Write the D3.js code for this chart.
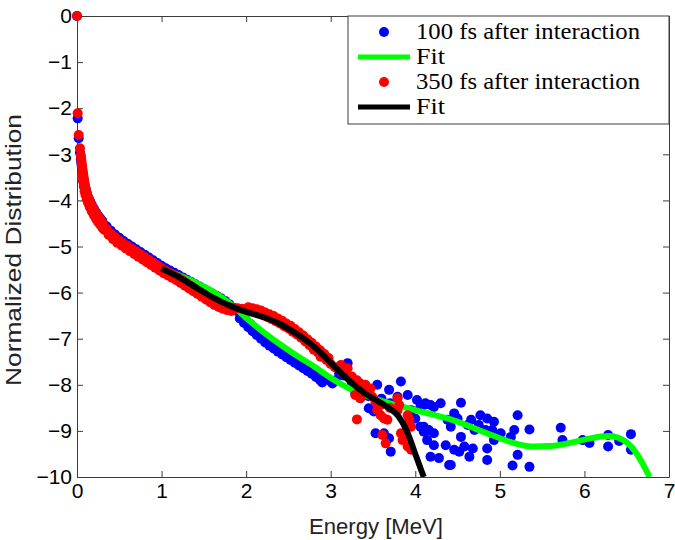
<!DOCTYPE html>
<html>
<head>
<meta charset="utf-8">
<script src="https://cdn.jsdelivr.net/npm/d3@7"></script>
<style>
  body { margin: 0; background: #fff; }
  svg { display: block; }
</style>
</head>
<body>
<div id="container"></div>
<script>
// [energy MeV, normalized log distribution]
const blue100 = [
  [0, 0], [0.008, -2.22], [0.02, -2.65], [0.035, -2.96], [0.045, -3.1], [0.05, -3.18],
  [0.055, -3.25], [0.06, -3.32], [0.065, -3.38], [0.07, -3.44], [0.075, -3.5], [0.08, -3.56],
  [0.085, -3.61], [0.09, -3.66], [0.1, -3.74], [0.11, -3.81], [0.12, -3.87], [0.135, -3.95],
  [0.15, -4.01], [0.16, -4.05], [0.175, -4.1], [0.2, -4.18], [0.225, -4.26], [0.25, -4.33],
  [0.275, -4.39], [0.3, -4.45],
  [0.35, -4.56], [0.4, -4.66], [0.45, -4.74], [0.5, -4.81], [0.55, -4.88], [0.6, -4.94],
  [0.65, -5.0], [0.7, -5.06], [0.75, -5.12], [0.8, -5.18], [0.85, -5.24], [0.9, -5.3],
  [0.95, -5.36], [1.0, -5.42], [1.05, -5.47], [1.1, -5.52], [1.15, -5.57], [1.2, -5.62],
  [1.25, -5.67], [1.3, -5.72], [1.35, -5.77], [1.4, -5.82], [1.45, -5.87], [1.5, -5.92],
  [1.55, -5.97], [1.6, -6.02], [1.65, -6.07], [1.7, -6.12], [1.75, -6.18], [1.8, -6.25],
  [1.85, -6.33], [1.9, -6.41], [1.95, -6.5], [2.0, -6.6], [2.05, -6.68], [2.1, -6.77],
  [2.15, -6.85], [2.2, -6.93], [2.25, -7.0], [2.3, -7.07], [2.35, -7.13], [2.4, -7.2],
  [2.45, -7.26], [2.5, -7.32], [2.55, -7.38], [2.6, -7.44], [2.65, -7.5], [2.7, -7.56],
  [2.75, -7.62], [2.8, -7.68], [2.85, -7.75], [2.9, -7.82], [2.95, -7.86], [3.0, -7.92],
  [1.925, -6.56], [1.975, -6.66], [2.025, -6.75], [2.075, -6.84], [2.125, -6.92], [2.175, -7.0],
  [2.225, -7.08], [2.275, -7.15], [2.325, -7.21], [2.375, -7.28], [2.425, -7.34], [2.475, -7.4],
  [2.525, -7.46], [2.575, -7.52], [2.625, -7.58], [2.675, -7.64], [2.725, -7.7], [2.775, -7.76],
  [2.825, -7.83], [2.875, -7.9],
  [2.72, -7.61], [2.84, -7.82], [2.9, -7.95], [3.02, -7.97], [3.06, -7.9], [3.1, -7.75],
  [3.15, -7.8], [3.2, -7.53], [3.25, -7.95], [3.29, -8.18], [3.35, -8.29], [3.4, -8.1],
  [3.45, -8.25], [3.45, -8.51], [3.51, -8.58], [3.55, -8.0], [3.6, -8.3], [3.69, -8.11],
  [3.7, -8.4], [3.79, -8.26], [3.83, -7.93], [3.91, -8.22], [3.95, -8.55], [4.0, -8.73],
  [4.02, -8.33], [4.06, -8.48], [4.06, -8.91], [4.1, -8.44], [4.12, -8.4], [4.16, -8.98],
  [4.18, -8.44], [4.22, -8.48], [4.22, -9.05], [4.3, -8.4], [4.54, -8.39], [4.46, -8.62],
  [4.5, -8.73], [4.38, -8.76], [4.42, -8.91], [4.66, -8.76], [4.62, -8.87], [4.7, -8.98],
  [4.77, -8.66], [4.85, -8.73], [4.93, -8.8], [4.75, -8.87], [4.83, -8.98], [4.91, -8.98],
  [5.21, -8.66], [5.35, -8.97], [5.17, -8.98], [5.13, -9.13], [5.21, -9.52], [5.15, -9.75],
  [5.35, -9.78], [5.72, -8.93], [5.74, -9.2], [5.98, -9.2], [6.06, -9.26], [6.28, -9.09],
  [6.28, -9.34], [6.41, -9.22], [6.55, -9.07], [6.55, -9.41], [4.1, -9.02], [4.14, -9.2],
  [4.22, -9.31], [4.36, -9.31], [4.54, -9.13], [4.58, -9.34], [4.46, -9.41], [4.68, -9.38],
  [4.64, -9.56], [4.52, -9.45], [4.85, -9.38], [4.85, -9.63], [4.18, -9.56], [4.28, -9.59],
  [4.42, -9.74], [4.93, -9.2], [5.01, -9.05], [3.53, -9.05], [3.63, -9.05], [3.69, -9.16],
  [3.71, -9.45], [4.1, -8.91], [4.14, -8.98], [4.4, -9.74]
];

const red350 = [
  [0, 0], [0.008, -2.11], [0.02, -2.58], [0.035, -2.87], [0.045, -3.02], [0.05, -3.1],
  [0.055, -3.18], [0.06, -3.26], [0.065, -3.33], [0.07, -3.4], [0.075, -3.46], [0.08, -3.53],
  [0.085, -3.59], [0.09, -3.65], [0.1, -3.72], [0.11, -3.8], [0.12, -3.87], [0.135, -3.95],
  [0.15, -4.02], [0.165, -4.08], [0.18, -4.14], [0.2, -4.2], [0.225, -4.28], [0.25, -4.35],
  [0.275, -4.42], [0.3, -4.48],
  [0.35, -4.62], [0.4, -4.72], [0.45, -4.8], [0.5, -4.87], [0.55, -4.93], [0.6, -4.99],
  [0.65, -5.05], [0.7, -5.11], [0.75, -5.17], [0.8, -5.23], [0.85, -5.29], [0.9, -5.35],
  [0.95, -5.41], [1.0, -5.47], [1.05, -5.53], [1.1, -5.58], [1.15, -5.63], [1.2, -5.68],
  [1.25, -5.74], [1.3, -5.8], [1.35, -5.86], [1.4, -5.92], [1.45, -5.98], [1.5, -6.04],
  [1.55, -6.1], [1.6, -6.16], [1.65, -6.22], [1.7, -6.26], [1.75, -6.3], [1.8, -6.32],
  [1.85, -6.33], [1.9, -6.34], [1.95, -6.35], [2.0, -6.37], [2.05, -6.39], [2.1, -6.42],
  [2.15, -6.45], [2.2, -6.49], [2.25, -6.53], [2.3, -6.57], [2.35, -6.62], [2.4, -6.67],
  [2.45, -6.73], [2.5, -6.78], [2.55, -6.85], [2.6, -6.91], [2.65, -6.98], [2.7, -7.06],
  [2.75, -7.14], [2.8, -7.22], [2.85, -7.3], [2.9, -7.38], [2.95, -7.46], [3.0, -7.55],
  [0.06, -3.45], [0.07, -3.58], [0.08, -3.7], [0.09, -3.8], [0.1, -3.88], [0.115, -3.97],
  [0.13, -4.05], [0.15, -4.14], [0.175, -4.24], [0.2, -4.32], [0.225, -4.4], [0.25, -4.47],
  [0.275, -4.53], [0.3, -4.59], [0.325, -4.64], [0.375, -4.75], [0.425, -4.84], [0.475, -4.92],
  [0.525, -4.98], [0.575, -5.04], [0.625, -5.1], [0.675, -5.16], [0.725, -5.22], [0.775, -5.28],
  [0.825, -5.34], [0.875, -5.4], [0.925, -5.46], [0.975, -5.52], [1.025, -5.58], [1.075, -5.63],
  [1.125, -5.68], [1.175, -5.73], [1.225, -5.79], [1.275, -5.85], [1.325, -5.91], [1.375, -5.97],
  [1.425, -6.03], [1.475, -6.09], [1.525, -6.15], [1.575, -6.21], [1.625, -6.27], [1.675, -6.31],
  [1.725, -6.35], [1.775, -6.38], [1.825, -6.4],
  [2.025, -6.32], [2.075, -6.34], [2.125, -6.36], [2.175, -6.39],
  [2.225, -6.43], [2.275, -6.47], [2.325, -6.51], [2.375, -6.56], [2.425, -6.61], [2.475, -6.67],
  [2.525, -6.72], [2.575, -6.79], [2.625, -6.86], [2.675, -6.93], [2.725, -7.01], [2.775, -7.09],
  [2.825, -7.17], [2.875, -7.25], [2.925, -7.33], [2.975, -7.42],
  [2.8, -7.24], [2.88, -7.39], [3.12, -7.57], [3.2, -7.64], [3.13, -7.72], [3.31, -7.9],
  [3.35, -7.97], [3.41, -8.0], [3.47, -8.08], [3.29, -8.22], [3.35, -8.29], [3.31, -8.75],
  [3.55, -8.55], [3.59, -8.66], [3.63, -8.73], [3.67, -8.76], [3.61, -9.09], [3.65, -9.27],
  [3.79, -8.29], [3.81, -8.44], [3.79, -8.55], [3.91, -8.66], [3.93, -8.76], [3.95, -8.91],
  [3.83, -9.05], [3.85, -9.2], [3.91, -9.34], [3.95, -9.41], [3.49, -8.26], [3.53, -8.37],
  [3.59, -8.44], [3.43, -8.15], [3.05, -7.62], [3.25, -7.82], [3.38, -8.1], [3.7, -8.5]
];

const fit100 = [
  [1.0, -5.48], [1.2, -5.62], [1.4, -5.78], [1.6, -5.97], [1.8, -6.22], [2.0, -6.55],
  [2.2, -6.85], [2.4, -7.12], [2.6, -7.37], [2.8, -7.6], [3.0, -7.85], [3.2, -8.06],
  [3.4, -8.22], [3.6, -8.35], [3.8, -8.45], [4.0, -8.55], [4.2, -8.64], [4.4, -8.74],
  [4.6, -8.87], [4.8, -9.02], [5.0, -9.16], [5.2, -9.28], [5.4, -9.34], [5.6, -9.33],
  [5.8, -9.27], [6.0, -9.19], [6.2, -9.12], [6.3, -9.11], [6.4, -9.15], [6.5, -9.25],
  [6.6, -9.45], [6.7, -9.75], [6.77, -10.0]
];

const fit350 = [
  [1.0, -5.48], [1.2, -5.66], [1.4, -5.88], [1.6, -6.1], [1.8, -6.28], [2.0, -6.42],
  [2.2, -6.53], [2.4, -6.68], [2.6, -6.9], [2.8, -7.17], [3.0, -7.52], [3.2, -7.88],
  [3.4, -8.18], [3.6, -8.4], [3.7, -8.52], [3.8, -8.68], [3.9, -9.0], [4.0, -9.5],
  [4.05, -9.75], [4.1, -10.0]
];

const xTicks = [0, 1, 2, 3, 4, 5, 6, 7];
const yTicks = [0, -1, -2, -3, -4, -5, -6, -7, -8, -9, -10];
const legendLabels = ["100 fs after interaction", "Fit", "350 fs after interaction", "Fit"];

const width = 675, height = 540;
const margin = { left: 77, right: 6, top: 16, bottom: 63 };
const axisColor = "#3c3c3c";
const sansFont = "Liberation Sans, Arial, Helvetica, sans-serif";

const svg = d3.select("#container").append("svg")
  .attr("width", width)
  .attr("height", height);

const x = d3.scaleLinear().domain([0, 7]).range([margin.left, width - margin.right]);
const y = d3.scaleLinear().domain([-10, 0]).range([height - margin.bottom, margin.top]);

svg.append("clipPath").attr("id", "plot-clip")
  .append("rect")
  .attr("x", x(0) - 8).attr("y", y(0) - 8)
  .attr("width", x(7) - x(0) + 8).attr("height", y(-10) - y(0) + 8);

const minus = d => d3.format("d")(d).replace("-", "\u2212");

// frame and inward ticks on all four sides
const axes = [
  { g: d3.axisBottom(x).tickValues(xTicks).tickFormat(d => d), at: y(-10), pad: 6 },
  { g: d3.axisTop(x).tickValues(xTicks).tickFormat(""), at: y(0), pad: 6 },
  { g: d3.axisLeft(y).tickValues(yTicks).tickFormat(minus), at: x(0), pad: 5 },
  { g: d3.axisRight(y).tickValues(yTicks).tickFormat(""), at: x(7), pad: 5 }
];
axes.forEach((a, i) => {
  const horizontal = i < 2;
  const g = svg.append("g")
    .attr("transform", horizontal ? `translate(0,${a.at})` : `translate(${a.at},0)`)
    .call(a.g.tickSizeInner(-6).tickSizeOuter(0).tickPadding(a.pad));
  g.select(".domain").attr("stroke", axisColor);
  g.selectAll(".tick line").attr("stroke", axisColor);
  g.selectAll(".tick text")
    .attr("fill", "#000")
    .style("font-family", sansFont)
    .style("font-size", "21px");
});

const plot = svg.append("g").attr("clip-path", "url(#plot-clip)");

const line = d3.line().x(d => x(d[0])).y(d => y(d[1])).curve(d3.curveMonotoneX);

plot.append("g").selectAll("circle")
  .data(blue100)
  .join("circle")
  .attr("cx", d => x(d[0]))
  .attr("cy", d => y(d[1]))
  .attr("r", 5)
  .attr("fill", "#0000ff");

plot.append("path")
  .datum(fit100)
  .attr("fill", "none")
  .attr("stroke", "#00ff00")
  .attr("stroke-width", 6)
  .attr("d", line);

plot.append("g").selectAll("circle")
  .data(red350)
  .join("circle")
  .attr("cx", d => x(d[0]))
  .attr("cy", d => y(d[1]))
  .attr("r", 5)
  .attr("fill", "#ff0000");

plot.append("path")
  .datum(fit350)
  .attr("fill", "none")
  .attr("stroke", "#000")
  .attr("stroke-width", 6)
  .attr("d", line);

// axis titles
svg.append("text")
  .attr("x", 376)
  .attr("y", 534)
  .attr("text-anchor", "middle")
  .attr("textLength", 134)
  .attr("lengthAdjust", "spacingAndGlyphs")
  .style("font-family", sansFont)
  .style("font-size", "22px")
  .style("fill", "#222")
  .text("Energy [MeV]");

svg.append("text")
  .attr("transform", `translate(21,250) rotate(-90)`)
  .attr("text-anchor", "middle")
  .attr("textLength", 272)
  .attr("lengthAdjust", "spacingAndGlyphs")
  .style("font-family", sansFont)
  .style("font-size", "22px")
  .style("fill", "#222")
  .text("Normalized Distribution");

// legend
const legend = svg.append("g");
legend.append("rect")
  .attr("x", 348).attr("y", y(0))
  .attr("width", x(7) - 348).attr("height", 108)
  .attr("fill", "#fff")
  .attr("stroke", axisColor);

const legendKinds = [
  { type: "dot", color: "#0000ff", len: 224 },
  { type: "line", color: "#00ff00", len: 29 },
  { type: "dot", color: "#ff0000", len: 224 },
  { type: "line", color: "#000", len: 29 }
];
legendLabels.forEach((label, i) => {
  const cy = 32 + i * 25;
  const k = legendKinds[i];
  if (k.type === "dot") {
    legend.append("circle").attr("cx", 384).attr("cy", cy).attr("r", 5).attr("fill", k.color);
  } else {
    legend.append("line")
      .attr("x1", 358).attr("x2", 410).attr("y1", cy).attr("y2", cy)
      .attr("stroke", k.color).attr("stroke-width", 5);
  }
  legend.append("text")
    .attr("x", 416).attr("y", cy + 7)
    .attr("textLength", k.len)
    .attr("lengthAdjust", "spacingAndGlyphs")
    .style("font-family", "Liberation Serif, Times New Roman, serif")
    .style("font-size", "23px")
    .text(label);
});
</script>
</body>
</html>
